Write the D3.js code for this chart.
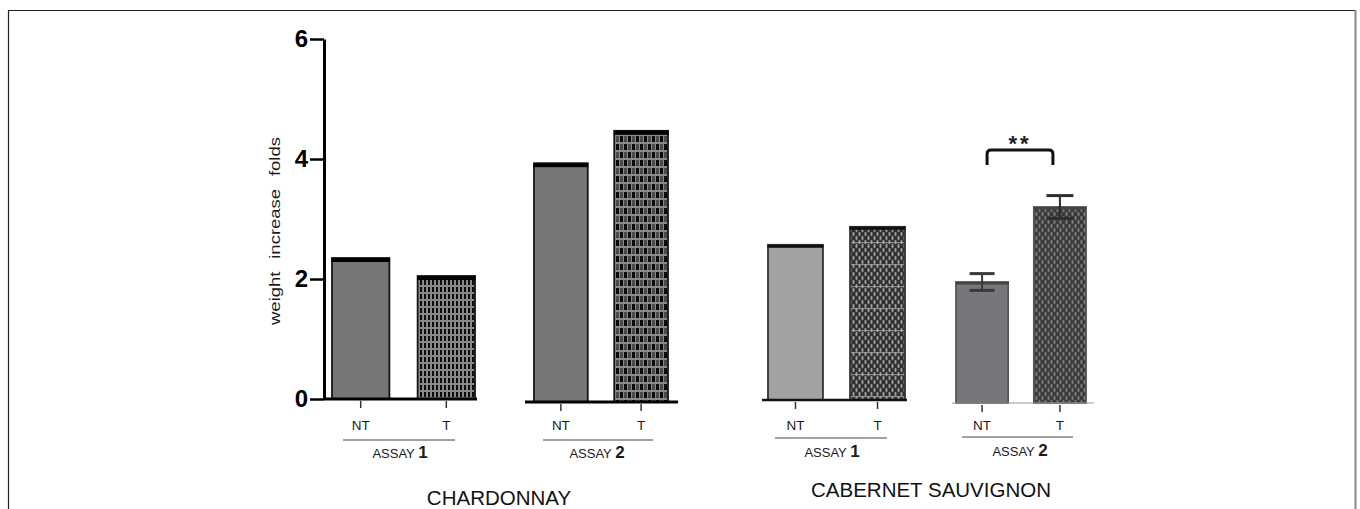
<!DOCTYPE html>
<html><head><meta charset="utf-8">
<script src="https://cdn.jsdelivr.net/npm/d3@7"></script>
<style>body{margin:0;background:#fff}svg{display:block}text{font-family:"Liberation Sans",Arial,sans-serif}</style>
</head><body><svg id="c" width="1360" height="509"></svg>
<script>
// ---- data ----
const treatments = ["NT", "T"];
const varieties = ["CHARDONNAY", "CABERNET SAUVIGNON"];
const assayNames = ["1", "2"];
const chardonnayAssay1 = [2.35, 2.05];
const chardonnayAssay2 = [3.93, 4.47];
const cabernetAssay1 = [2.57, 2.87];
const cabernetAssay2 = [1.95, 3.20];
const cabernetAssay2Err = [0.14, 0.19];
const yTicks = [0, 2, 4, 6];
const yLabel = "weight increase folds";
const sigLabel = "**";

// ---- layout ----
const svg = d3.select("#c");
const defs = svg.append("defs");

function pat(id, w, h, bg, draw) {
  const p = defs.append("pattern").attr("id", id).attr("patternUnits", "userSpaceOnUse").attr("width", w).attr("height", h);
  p.append("rect").attr("width", w).attr("height", h).attr("fill", bg);
  draw(p);
}
pat("pChA1", 4, 7, "#8a8a8a", p => {
  p.append("rect").attr("x", 0).attr("y", 0).attr("width", 2).attr("height", 5).attr("fill", "#0a0a0a");
});
pat("pChA2", 8, 16, "#8a8a8a", p => {
  p.append("rect").attr("x", 0).attr("y", 0).attr("width", 3).attr("height", 6).attr("fill", "#0a0a0a");
  p.append("rect").attr("x", 4).attr("y", 8).attr("width", 3).attr("height", 6).attr("fill", "#0a0a0a");
  p.append("rect").attr("x", 0).attr("y", 8).attr("width", 3).attr("height", 6).attr("fill", "#4a4a4a");
  p.append("rect").attr("x", 4).attr("y", 0).attr("width", 3).attr("height", 6).attr("fill", "#4a4a4a");
});
pat("pCabA1", 6, 8, "#2f2f2f", p => {
  p.append("ellipse").attr("cx", 1.5).attr("cy", 2).attr("rx", 1.1).attr("ry", 2.2).attr("fill", "#9a9a9a");
  p.append("ellipse").attr("cx", 4.5).attr("cy", 6).attr("rx", 1.1).attr("ry", 2.2).attr("fill", "#9a9a9a");
  p.append("ellipse").attr("cx", 4.5).attr("cy", -2).attr("rx", 1.1).attr("ry", 2.2).attr("fill", "#9a9a9a");
});
pat("pCabA1Lines", 6, 22, "none", p => {
  p.append("rect").attr("x", 0).attr("y", 0).attr("width", 6).attr("height", 1.2).attr("fill", "#b0b0b0").attr("opacity", 0.7);
});
pat("pCabA2", 6, 8, "#3a3a3c", p => {
  p.append("ellipse").attr("cx", 1.5).attr("cy", 2).attr("rx", 1.1).attr("ry", 2.2).attr("fill", "#7b7b7e");
  p.append("ellipse").attr("cx", 4.5).attr("cy", 6).attr("rx", 1.1).attr("ry", 2.2).attr("fill", "#7b7b7e");
  p.append("ellipse").attr("cx", 4.5).attr("cy", -2).attr("rx", 1.1).attr("ry", 2.2).attr("fill", "#7b7b7e");
});

// frame
svg.append("path").attr("d", "M8.5,520V10.5H1355").attr("fill", "none").attr("stroke", "#222").attr("stroke-width", 1.2);
svg.append("line").attr("x1", 1355.5).attr("x2", 1355.5).attr("y1", 10).attr("y2", 520).attr("stroke", "#888").attr("stroke-width", 2);

const y = d3.scaleLinear().domain([0, 6]).range([399, 39]);

const panels = [
  { values: chardonnayAssay1, assay: assayNames[0], range: [332, 475], base: 399, axis: [324, 477], axisW: 3, axisC: "#000",
    ntFill: "#777", tFill: "url(#pChA1)", stroke: "#151515", topC: "#000", topW: 4, uline: [343, 455, 440], assayX: 400, assayY: 458 },
  { values: chardonnayAssay2, assay: assayNames[1], range: [534, 668], base: 402, axis: [525, 678], axisW: 3, axisC: "#000",
    ntFill: "#777", tFill: "url(#pChA2)", stroke: "#151515", topC: "#000", topW: 4, uline: [543, 653, 440], assayX: 597, assayY: 458 },
  { values: cabernetAssay1, assay: assayNames[0], range: [768, 905], base: 400, axis: [762, 907], axisW: 2.5, axisC: "#111",
    ntFill: "#a2a2a2", tFill: "url(#pCabA1)", lines: true, stroke: "#333", topC: "#111", topW: 3, uline: [775, 887, 438], assayX: 832, assayY: 457 },
  { values: cabernetAssay2, err: cabernetAssay2Err, assay: assayNames[1], range: [956, 1086], base: 403, axis: [952, 1094], axisW: 1, axisC: "#999",
    ntFill: "#76777b", tFill: "url(#pCabA2)", stroke: "#555", topC: "#444", topW: 2.5, uline: [962, 1073, 437], assayX: 1020, assayY: 456, sig: true }
];

panels.forEach(pn => {
  const x = d3.scaleBand().domain(treatments).range(pn.range).paddingInner(0.33).paddingOuter(0);
  const g = svg.append("g");
  treatments.forEach((t, i) => {
    const v = pn.values[i];
    const x0 = x(t), w = x.bandwidth(), top = y(v);
    g.append("rect").attr("x", x0).attr("y", top).attr("width", w).attr("height", pn.base - top)
      .attr("fill", i === 0 ? pn.ntFill : pn.tFill).attr("stroke", pn.stroke).attr("stroke-width", 1.8);
    if (i === 1 && pn.lines) {
      g.append("rect").attr("x", x0 + 1).attr("y", top + 3).attr("width", w - 2).attr("height", pn.base - top - 3)
        .attr("fill", "url(#pCabA1Lines)");
    }
    g.append("rect").attr("x", x0 - 0.5).attr("y", top).attr("width", w + 1).attr("height", pn.topW).attr("fill", pn.topC);
    if (pn.err) {
      const cx = x0 + w / 2, e = pn.err[i], cw = i === 0 ? 25 : 27;
      const ec = i === 0 ? "#3a3a3a" : "#2e2e2e";
      g.append("line").attr("x1", cx).attr("x2", cx).attr("y1", y(v + e)).attr("y2", y(v - e)).attr("stroke", ec).attr("stroke-width", 2);
      [v + e, v - e].forEach(ev => {
        g.append("line").attr("x1", cx - cw / 2).attr("x2", cx + cw / 2).attr("y1", y(ev)).attr("y2", y(ev)).attr("stroke", ec).attr("stroke-width", 3);
      });
    }
    const cx = x0 + w / 2;
    g.append("line").attr("x1", cx).attr("x2", cx).attr("y1", pn.base + 2).attr("y2", pn.base + 9).attr("stroke", "#333").attr("stroke-width", 1.5);
    g.append("text").attr("x", cx).attr("y", 430).attr("text-anchor", "middle").attr("font-size", 13.5).attr("fill", "#1a1a1a").text(t);
  });
  g.append("line").attr("x1", pn.axis[0]).attr("x2", pn.axis[1]).attr("y1", pn.base).attr("y2", pn.base)
    .attr("stroke", pn.axisC).attr("stroke-width", pn.axisW);
  g.append("line").attr("x1", pn.uline[0]).attr("x2", pn.uline[1]).attr("y1", pn.uline[2]).attr("y2", pn.uline[2])
    .attr("stroke", "#444").attr("stroke-width", 1);
  const at = g.append("text").attr("x", pn.assayX).attr("y", pn.assayY).attr("text-anchor", "middle").attr("fill", "#1a1a1a");
  at.append("tspan").attr("font-size", 13).text("ASSAY ");
  at.append("tspan").attr("font-size", 17).attr("font-weight", "bold").text(pn.assay);
  if (pn.sig) {
    const xa = x(treatments[0]) + x.bandwidth() / 2 + 5;
    const xb = x(treatments[1]) + x.bandwidth() / 2 - 7;
    const yb = y(4.15), yl = yb + 15;
    g.append("path").attr("d", `M${xa},${yl}V${yb + 4}Q${xa},${yb} ${xa + 4},${yb}H${xb - 4}Q${xb},${yb} ${xb},${yb + 4}V${yl}`)
      .attr("fill", "none").attr("stroke", "#111").attr("stroke-width", 3);
    g.append("text").attr("x", (xa + xb) / 2).attr("y", yb + 1).attr("text-anchor", "middle")
      .attr("font-size", 22).attr("font-weight", "bold").attr("letter-spacing", 3).attr("fill", "#222").text(sigLabel);
  }
});

const ya = svg.append("g").attr("transform", "translate(324,0)")
  .call(d3.axisLeft(y).tickValues(yTicks).tickSize(14).tickSizeOuter(0).tickPadding(2).tickFormat(d3.format("d")));
ya.select(".domain").attr("stroke", "#000").attr("stroke-width", 3);
ya.selectAll(".tick line").attr("stroke", "#000").attr("stroke-width", 2.5);
ya.selectAll(".tick text").attr("font-size", 24).attr("font-weight", "bold").attr("fill", "#000")
  .attr("font-family", "'Liberation Sans', Arial, sans-serif");

svg.append("text").attr("transform", "translate(275,231) rotate(-90)").attr("text-anchor", "middle")
  .attr("dominant-baseline", "central").attr("font-size", 14.5).attr("fill", "#1a1a1a").attr("word-spacing", 6)
  .attr("textLength", 188).attr("lengthAdjust", "spacingAndGlyphs").text(yLabel);

const titleX = [499, 931], titleY = [505, 497];
varieties.forEach((v, i) => {
  svg.append("text").attr("x", titleX[i]).attr("y", titleY[i]).attr("text-anchor", "middle")
    .attr("font-size", 20.5).attr("fill", "#111").text(v);
});
</script></body></html>
